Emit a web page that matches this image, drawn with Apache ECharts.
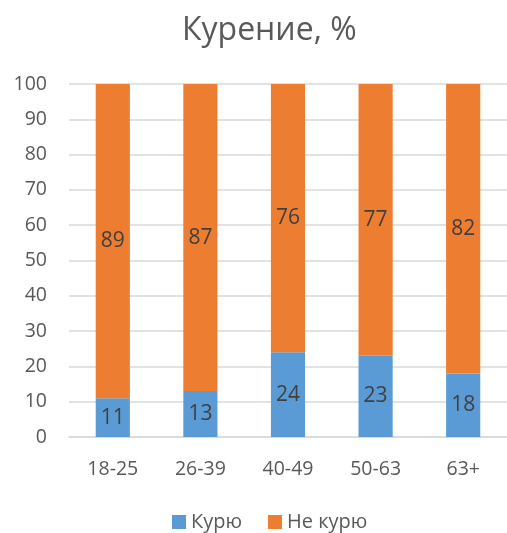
<!DOCTYPE html>
<html>
<head>
<meta charset="utf-8">
<script src="https://cdn.jsdelivr.net/npm/echarts@6/dist/echarts.min.js"></script>
<style>
  html, body { margin: 0; padding: 0; background: #fff; }
  #chart { width: 507px; height: 533px; }
</style>
</head>
<body>
<div id="chart"></div>
<script>
// Age groups and smoking shares, %
const ageGroups = ['18-25', '26-39', '40-49', '50-63', '63+'];
const smokers = [11, 13, 24, 23, 18];
const nonSmokers = [89, 87, 76, 77, 82];
const yTicks = [0, 10, 20, 30, 40, 50, 60, 70, 80, 90, 100];

const font = '"Open Sans", "Liberation Sans", sans-serif';
const chart = echarts.init(document.getElementById('chart'));

const labelStyle = {
  show: true,
  position: 'inside',
  color: '#404040',
  fontSize: 21,
  fontFamily: font
};

chart.setOption({
  animation: false,
  title: {
    text: 'Курение, %',
    left: 177,
    top: 10,
    textStyle: { color: '#595959', fontSize: 32, fontWeight: 'normal', fontFamily: font }
  },
  legend: {
    top: 507,
    left: 167,
    padding: [5, 5],
    itemWidth: 14,
    itemHeight: 14,
    itemGap: 26,
    icon: 'rect',
    textStyle: { color: '#595959', fontSize: 20, fontFamily: font },
    data: ['Курю', 'Не курю']
  },
  grid: { left: 69, right: 0, top: 84, bottom: 96, containLabel: false },
  xAxis: {
    type: 'category',
    data: ageGroups,
    axisTick: { show: false },
    axisLine: { lineStyle: { color: '#d9d9d9', width: 1.5 } },
    axisLabel: { color: '#595959', fontSize: 19.5, fontFamily: font, margin: 22 }
  },
  yAxis: {
    type: 'value',
    min: yTicks[0],
    max: yTicks[yTicks.length - 1],
    interval: 10,
    axisLine: { show: false },
    axisTick: { show: false },
    splitLine: { lineStyle: { color: '#d9d9d9', width: 1.5 } },
    axisLabel: { color: '#595959', fontSize: 19.5, fontFamily: font, margin: 22 }
  },
  series: [
    {
      name: 'Курю',
      type: 'bar',
      stack: 'total',
      barWidth: '39%',
      data: smokers,
      itemStyle: { color: '#5B9BD5' },
      label: labelStyle
    },
    {
      name: 'Не курю',
      type: 'bar',
      stack: 'total',
      barWidth: '39%',
      data: nonSmokers,
      itemStyle: { color: '#ED7D31' },
      label: labelStyle
    }
  ]
});
</script>
</body>
</html>
